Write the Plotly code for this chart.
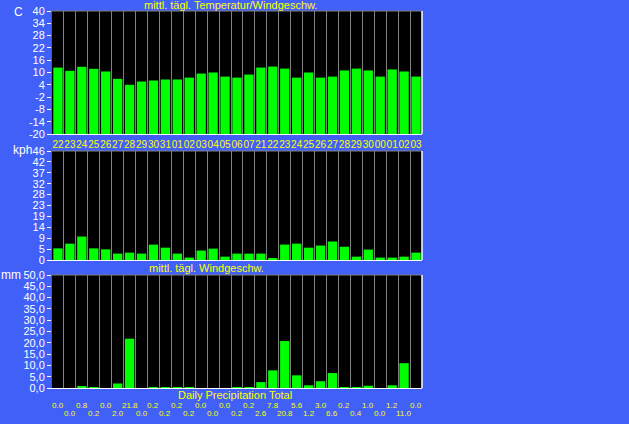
import plotly.graph_objects as go

W, H = 629, 424
BG = "#4060F8"
GREEN = "#00FF00"
GRID = "#808080"
YELLOW = "#FFFF00"

days = ["22", "23", "24", "25", "26", "27", "28", "29", "30", "31", "01", "02", "03", "04", "05",
        "06", "07", "21", "22", "23", "24", "25", "26", "27", "28", "29", "30", "00", "01", "02", "03"]
temp = [12.4, 10.8, 12.8, 11.8, 10.5, 6.9, 4.0, 5.6, 6.1, 6.6, 6.6, 7.5, 9.5, 10.0, 8.0, 7.5,
        9.0, 12.4, 12.9, 11.9, 7.5, 10.0, 7.5, 8.0, 11.0, 11.9, 11.0, 8.0, 11.5, 10.5, 8.0]
wind = [4.9, 6.9, 9.9, 4.9, 4.5, 2.7, 3.1, 2.7, 6.5, 5.2, 2.7, 1.0, 4.0, 4.8, 1.4, 2.7,
        2.7, 2.7, 0.6, 6.5, 6.9, 5.2, 6.1, 7.8, 5.6, 1.4, 4.4, 1.0, 1.0, 1.4, 3.1]
precip = [0.0, 0.0, 0.8, 0.2, 0.0, 2.0, 21.8, 0.0, 0.2, 0.2, 0.2, 0.2, 0.0, 0.0, 0.0, 0.2,
          0.2, 2.6, 7.8, 20.8, 5.6, 1.2, 3.0, 6.6, 0.2, 0.4, 1.0, 0.0, 1.2, 11.0, 0.0]

temp_ticks = [-20, -14, -8, -2, 4, 10, 16, 22, 28, 34, 40]
temp_ticktext = ["-20", "-14", "-8", "-2", "4", "10", "16", "22", "28", "34", "40"]
wind_tickvals = [0, 4.6, 9.2, 13.8, 18.4, 23, 27.6, 32.2, 36.8, 41.4, 46]
wind_ticktext = ["0", "5", "9", "14", "19", "23", "28", "32", "37", "42", "46"]
precip_ticks = [0, 5, 10, 15, 20, 25, 30, 35, 40, 45, 50]
precip_ticktext = ["0,0", "5,0", "10,0", "15,0", "20,0", "25,0", "30,0", "35,0", "40,0", "45,0", "50,0"]

TMIN, TMAX = -20, 40

def px(p):
    return p / W

def py(p):
    return 1 - p / H

n = len(days)
xs = list(range(n))
sep = [i + 0.5 for i in range(n - 1)]

fig = go.Figure()
fig.add_trace(go.Bar(x=xs, y=[t - TMIN for t in temp], base=TMIN, marker=dict(color=GREEN, line=dict(width=0)),
                     xaxis="x", yaxis="y", showlegend=False))
fig.add_trace(go.Bar(x=xs, y=wind, marker=dict(color=GREEN, line=dict(width=0)),
                     xaxis="x2", yaxis="y2", showlegend=False))
fig.add_trace(go.Bar(x=xs, y=precip, marker=dict(color=GREEN, line=dict(width=0)),
                     xaxis="x3", yaxis="y3", showlegend=False))

xdom = [px(52), px(422)]
doms = {
    "1": [py(134), py(11)],
    "2": [py(260), py(151)],
    "3": [py(388), py(275)],
}

FAM = "Liberation Sans, Arial, sans-serif"
font_tick = dict(family=FAM, size=11, color="#FFFFFF")

def xax(anchor, labels):
    d = dict(domain=xdom, anchor=anchor, range=[-0.5, n - 0.5], showgrid=False, zeroline=False,
             showline=True, linecolor="#FFFFFF", linewidth=1, automargin=False,
             minor=dict(tickmode="array", tickvals=sep, showgrid=True, gridcolor=GRID, gridwidth=1, ticks=""),
             fixedrange=True)
    if labels:
        d.update(tickmode="array", tickvals=xs, ticktext=days, ticks="outside", ticklen=1, tickangle=0,
                 tickcolor="rgba(0,0,0,0)",
                 tickfont=dict(family=FAM, size=10, color=YELLOW))
    else:
        d.update(showticklabels=False, ticks="")
    return d

def yax(anchor, dom, rng, tv, tt):
    return dict(domain=dom, anchor=anchor, range=rng, tickmode="array", tickvals=tv, ticktext=tt,
                showgrid=False, zeroline=False, showline=True, linecolor="#606060", linewidth=1,
                automargin=False,
                ticks="outside", ticklen=4, tickcolor="#FFFFFF", tickfont=font_tick, fixedrange=True)

fig.update_layout(
    width=W, height=H,
    autosize=False,
    margin=dict(l=0, r=0, t=0, b=0, pad=0, autoexpand=False),
    paper_bgcolor=BG,
    plot_bgcolor="#000000",
    bargap=0.22,
    xaxis=xax("y", True),
    yaxis=yax("x", doms["1"], [TMIN, TMAX], temp_ticks, temp_ticktext),
    xaxis2=xax("y2", False),
    yaxis2=yax("x2", doms["2"], [0, 46], wind_tickvals, wind_ticktext),
    xaxis3=xax("y3", False),
    yaxis3=yax("x3", doms["3"], [0, 50], precip_ticks, precip_ticktext),
)

shapes = []
for xa, ya in [("x", "y"), ("x2", "y2"), ("x3", "y3")]:
    shapes.append(dict(type="line", xref=xa + " domain", yref=ya + " domain", x0=0, x1=1, y0=1, y1=1,
                       line=dict(color="#808080", width=1)))
    shapes.append(dict(type="line", xref=xa + " domain", yref=ya + " domain", x0=1, x1=1, y0=0, y1=1,
                       line=dict(color="#FFFFFF", width=1.5)))
fig.update_layout(shapes=shapes)

ann = []
tfont = dict(family=FAM, size=11, color=YELLOW)
ann.append(dict(text="mittl. tägl. Temperatur/Windgeschw.", x=px(230), y=py(5), xref="paper", yref="paper",
                showarrow=False, font=tfont, xanchor="center", yanchor="middle"))
ann.append(dict(text="mittl. tägl. Windgeschw.", x=px(207), y=py(268), xref="paper", yref="paper",
                showarrow=False, font=tfont, xanchor="center", yanchor="middle"))
ann.append(dict(text="Daily Precipitation Total", x=px(235), y=py(395), xref="paper", yref="paper",
                showarrow=False, font=tfont, xanchor="center", yanchor="middle"))
ufont = dict(family=FAM, size=12, color="#FFFFFF")
for txt, x0, y0 in [("C", 18, 12), ("kph", 22, 150), ("mm", 11, 275)]:
    ann.append(dict(text=txt, x=px(x0), y=py(y0), xref="paper", yref="paper", showarrow=False,
                    font=ufont, xanchor="center", yanchor="middle"))
pfont = dict(family=FAM, size=8, color=YELLOW)
for i, v in enumerate(precip):
    ann.append(dict(text=f"{v:.1f}", x=i, xref="x3", y=py(405 if i % 2 == 0 else 413), yref="paper",
                    showarrow=False, font=pfont, xanchor="center", yanchor="middle", borderpad=0))
fig.update_layout(annotations=ann)

fig.write_html("out.html", config=dict(displayModeBar=False, responsive=False),
               post_script="document.body.style.margin='0';document.body.style.background='%s';" % BG)
